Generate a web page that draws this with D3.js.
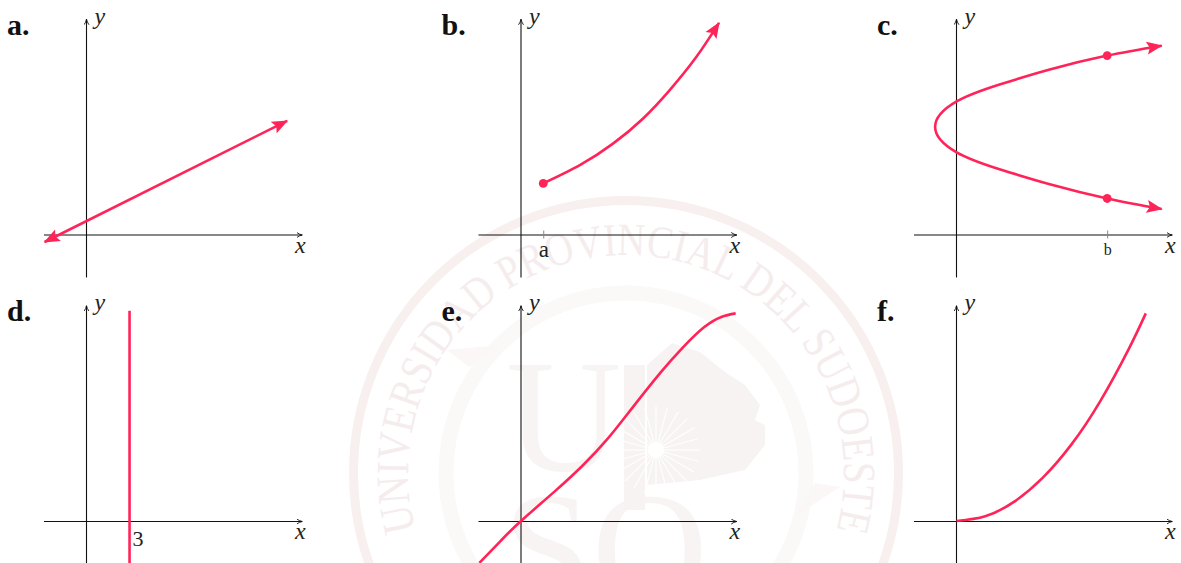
<!DOCTYPE html>
<html>
<head>
<meta charset="utf-8">
<script src="https://cdnjs.cloudflare.com/ajax/libs/d3/7.8.5/d3.min.js"></script>
<style>
  html, body { margin: 0; padding: 0; background: #fff; overflow: hidden; }
  svg { display: block; }
  text { font-family: "Liberation Serif", serif; }
  .axis path { stroke: #111; stroke-width: 1.1; fill: none; }
  .axis line { stroke: #888; stroke-width: 1; }
  .axis text { fill: #222; font-size: 23px; }
  .curve { fill: none; stroke: #ff2458; stroke-width: 2.6; }
  .dot { fill: #ff2458; }
  .tag { font-weight: bold; font-size: 30px; fill: #111; }
  .name { font-style: italic; font-size: 24px; fill: #222; }
</style>
</head>
<body>
<script>
//Values, one unit = one grid step of the original plot
var axisX = [-3, 15];
var axisY = [-3, 15];

var lineAX = [-2.92, 13.98];
var lineAY = [-0.52, 7.92];

var curveBX = [1.55, 4.10, 6.41, 8.49, 10.35, 12.20, 13.80];
var curveBY = [3.56, 4.83, 6.33, 8.07, 10.05, 12.35, 14.75];
var dotsBX = [1.55];
var dotsBY = [3.56];

var curveCX = [14.30, 10.5, 6.5, 3.0, 0.01, -1.49, 0.01, 3.0, 6.5, 10.5, 14.30];
var curveCY = [13.16, 12.47, 11.5, 10.45, 9.27, 7.5, 5.73, 4.55, 3.5, 2.51, 1.77];
var dotsCX = [10.5, 10.5];
var dotsCY = [12.47, 2.51];

var lineDX = [3, 3];
var lineDY = [14.65, -3];

var curveEX = [-2.90, -1.41, 0, 2.31, 4.30, 6.03, 7.77, 9.75, 11.24, 12.73, 13.96, 14.96];
var curveEY = [-2.92, -1.38, 0, 2.03, 3.87, 5.72, 7.90, 10.37, 12.05, 13.48, 14.22, 14.47];

var curveFX = [0, 2, 4, 6, 8, 10, 12, 13.19];
var curveFY = [0, 0.33, 1.33, 3.00, 5.32, 8.32, 11.98, 14.47];

var tags = ["a.", "b.", "c.", "d.", "e.", "f."];
var tickB = [1.55], tickBLabel = ["a"];
var tickC = [10.5], tickCLabel = ["b"];

var sealWords = "UNIVERSIDAD PROVINCIAL DEL SUDOESTE";

/***Sizes***/
var w = 1181, h = 563;
var unit = 14.35;
var originsX = [86.5, 521, 956.5];
var originsY = [234.5, 521];

var svg = d3.select("body").append("svg")
            .attr("width", w)
            .attr("height", h);

/***Markers***/
var defs = svg.append("defs");
defs.append("marker")
    .attr("id", "stealth")
    .attr("markerUnits", "userSpaceOnUse")
    .attr("viewBox", "0 -7 16 14")
    .attr("refX", 15)
    .attr("refY", 0)
    .attr("markerWidth", 16)
    .attr("markerHeight", 14)
    .attr("orient", "auto-start-reverse")
    .append("path")
    .attr("d", "M16,0 L0,-6.5 L3,0 L0,6.5 Z")
    .attr("fill", "#ff2458");
defs.append("marker")
    .attr("id", "tip")
    .attr("markerUnits", "userSpaceOnUse")
    .attr("viewBox", "0 -3 6 6")
    .attr("refX", 5.5)
    .attr("refY", 0)
    .attr("markerWidth", 6)
    .attr("markerHeight", 6)
    .attr("orient", "auto")
    .append("path")
    .attr("d", "M0,-2.5 Q2.5,-0.6 5.5,0 Q2.5,0.6 0,2.5")
    .attr("fill", "none")
    .attr("stroke", "#111")
    .attr("stroke-width", 0.9);

/***Watermark***/
var seal = svg.append("g").attr("class", "seal");
var cx = 626, cy = 473;
seal.append("circle")
    .attr("cx", cx).attr("cy", cy).attr("r", 272.5)
    .attr("fill", "none").attr("stroke", "#f8efef").attr("stroke-width", 9);
seal.append("circle")
    .attr("cx", cx).attr("cy", cy).attr("r", 180)
    .attr("fill", "none").attr("stroke", "#fbf8f8").attr("stroke-width", 15);

var arc = d3.path();
arc.arc(cx, cy, 218, 155 * Math.PI / 180, 385 * Math.PI / 180);
defs.append("path").attr("id", "sealArc").attr("d", arc.toString());
seal.append("text")
    .style("font-size", "46px")
    .attr("fill", "#f5eded")
    .attr("text-anchor", "middle")
    .append("textPath")
    .attr("href", "#sealArc")
    .attr("startOffset", "50%")
    .attr("textLength", 800)
    .attr("lengthAdjust", "spacingAndGlyphs")
    .text(sealWords);

seal.selectAll(".wedge")
    .data(["M447,350 L501,345 L469,367 Z", "M840,487 L794,517 L815,483 Z"])
    .enter()
    .append("path")
    .attr("class", "wedge")
    .attr("d", function(d) { return d; })
    .attr("fill", "#fbf7f7");

seal.selectAll(".letter")
    .data([["U", 506, 470], ["S", 503, 603], ["O", 592, 603]])
    .enter()
    .append("text")
    .attr("class", "letter")
    .attr("x", function(d) { return d[1]; })
    .attr("y", function(d) { return d[2]; })
    .attr("fill", "#f9f4f4")
    .style("font-size", "160px")
    .text(function(d) { return d[0]; });

seal.append("path")
    .attr("d", "M624,365 H645 V510 H624 Z M672,343 L700,352 L725,372 L745,385 L760,405 L755,420 L765,425 L765,445 L745,470 L700,480 L647,485 L647,365 Z")
    .attr("fill", "#f8f3f3");
seal.append("g")
    .attr("transform", "translate(656,450)")
    .selectAll("line")
    .data(d3.range(0, 360, 15))
    .enter()
    .append("line")
    .attr("y2", -44)
    .attr("transform", function(d) { return "rotate(" + d + ")"; })
    .attr("stroke", "#fff")
    .attr("stroke-width", 1);
seal.append("circle")
    .attr("cx", 656).attr("cy", 450).attr("r", 8).attr("fill", "#fff");

/***Panels***/
var panels = [
  {x: lineAX, y: lineAY, col: 0, row: 0, both: true},
  {x: curveBX, y: curveBY, col: 1, row: 0, dx: dotsBX, dy: dotsBY, ticks: tickB, labels: tickBLabel, end: true},
  {x: curveCX, y: curveCY, col: 2, row: 0, dx: dotsCX, dy: dotsCY, ticks: tickC, labels: tickCLabel, both: true},
  {x: lineDX, y: lineDY, col: 0, row: 1, three: true},
  {x: curveEX, y: curveEY, col: 1, row: 1},
  {x: curveFX, y: curveFY, col: 2, row: 1}
];

panels.forEach(function(p, i) {
  var ox = originsX[p.col], oy = originsY[p.row];
  var g = svg.append("g");

  var xScale = d3.scaleLinear()
                  .domain(axisX)
                  .range([ox + axisX[0] * unit, ox + axisX[1] * unit]);
  var yScale = d3.scaleLinear()
                  .domain(axisY)
                  .range([oy - axisY[0] * unit, oy - axisY[1] * unit]);

  var xAxis = d3.axisBottom()
                .scale(xScale)
                .tickValues(p.ticks || [])
                .tickSizeOuter(0)
                .tickSizeInner(4)
                .tickFormat(function(d, j) { return p.labels[j]; });
  var yAxis = d3.axisLeft()
                .scale(yScale)
                .tickValues([])
                .tickSizeOuter(0);

  var gx = g.append("g")
            .attr("class", "axis")
            .attr("transform", "translate(0," + oy + ")")
            .call(xAxis);
  gx.selectAll(".tick line").attr("y1", -4);
  gx.selectAll(".tick text").attr("y", 6);
  if (p.col == 2) gx.selectAll(".tick text").style("font-size", "16px").attr("y", 9);
  gx.select(".domain").attr("marker-end", "url(#tip)");

  var gy = g.append("g")
            .attr("class", "axis")
            .attr("transform", "translate(" + ox + ",0)")
            .call(yAxis);
  // the domain runs bottom to top so the tip lands on the upper end
  gy.select(".domain")
    .attr("d", "M0," + yScale(axisY[0]) + "V" + yScale(axisY[1]))
    .attr("marker-end", "url(#tip)");

  var line = d3.line()
               .curve(p.x.length > 2 ? d3.curveNatural : d3.curveLinear)
               .x(function(d) { return xScale(d[0]); })
               .y(function(d) { return yScale(d[1]); });

  var path = g.append("path")
              .datum(d3.zip(p.x, p.y))
              .attr("class", "curve")
              .attr("d", line);
  if (p.both) path.attr("marker-start", "url(#stealth)").attr("marker-end", "url(#stealth)");
  if (p.end) path.attr("marker-end", "url(#stealth)");

  if (p.dx) {
    g.selectAll(".dot")
     .data(d3.zip(p.dx, p.dy))
     .enter()
     .append("circle")
     .attr("class", "dot")
     .attr("cx", function(d) { return xScale(d[0]); })
     .attr("cy", function(d) { return yScale(d[1]); })
     .attr("r", 4.4);
  }

  if (p.three) {
    g.append("text")
     .attr("x", xScale(3) + 3)
     .attr("y", oy + 25)
     .style("font-size", "22px")
     .attr("fill", "#222")
     .text("3");
  }

  g.append("text").attr("class", "name").attr("x", ox + 208.5).attr("y", oy + 18).text("x");
  g.append("text").attr("class", "name").attr("x", ox + 8).attr("y", oy - 211).text("y");
  g.append("text").attr("class", "tag").attr("x", ox - 79.5).attr("y", oy - 200).text(tags[i]);
});
</script>
</body>
</html>
